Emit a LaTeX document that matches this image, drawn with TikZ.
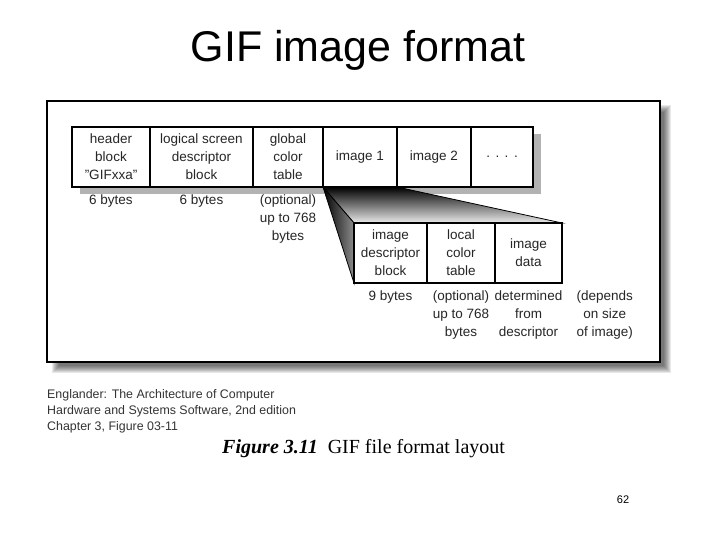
\documentclass[tikz,border=0pt]{standalone}
\usepackage{fontspec}
\setmainfont{Liberation Sans}
\newfontfamily\capfont{Liberation Serif}
\usetikzlibrary{positioning, calc, backgrounds}

\tikzstyle{blk} = [draw, line width=1.2pt, fill=white, outer sep=0pt, inner sep=0pt, minimum height=60pt, align=center, font=\fontsize{13.5}{18}\selectfont, text=black!85]
\tikzstyle{lbl} = [inner sep=0pt, align=center, font=\fontsize{13.5}{18}\selectfont, text=black!85]

\begin{document}
\begin{tikzpicture}[x=1pt, y=-1pt]
\useasboundingbox (0,0) rectangle (720,540);

\node[anchor=base, inner sep=0pt, font=\fontsize{43}{50}\selectfont] (title) at (358,62) {GIF image format};

% file layout
\node[blk, minimum width=78pt] (hdr) at (111,157) {header\\block\\\char34 GIFxxa\char34};
\node[blk, minimum width=103pt, right=0pt of hdr] (lsd) {logical screen\\descriptor\\block};
\node[blk, minimum width=70pt, right=0pt of lsd] (gct) {global\\color\\table};
\node[blk, minimum width=74pt, right=0pt of gct] (img1) {image 1};
\node[blk, minimum width=74pt, right=0pt of img1] (img2) {image 2};
\node[blk, minimum width=62pt, right=0pt of img2] (dots) {.\hspace{5.5pt}.\hspace{5.5pt}.\hspace{5.5pt}.};

\node[lbl, below=8pt of hdr] (hdrsz) {6 bytes};
\node[lbl, below=8pt of lsd] (lsdsz) {6 bytes};
\node[lbl, below=8pt of gct] (gctsz) {(optional)\\up to 768\\bytes};

% one image, opened up
\node[blk, minimum width=73pt] (idb) at (390.5,253) {image\\descriptor\\block};
\node[blk, minimum width=68pt, right=0pt of idb] (lct) {local\\color\\table};
\node[blk, minimum width=67pt, right=0pt of lct] (idat) {image\\data};

\node[lbl, below=8pt of idb] (idbsz) {9 bytes};
\node[lbl, below=8pt of lct] (lctsz) {(optional)\\up to 768\\bytes};
\node[lbl, below=8pt of idat] (idatsz) {determined\\from\\descriptor};
\node[lbl, right=14pt of idatsz.north east, anchor=north west] (imgsz) {(depends\\on size\\of image)};

\begin{scope}[on background layer]
  % frame and its shadow
  \foreach \r in {0,...,7}
    \fill[black, opacity=0.09] (59-\r,112-\r) rectangle (664+\r,366+\r);
  \draw[line width=1.2pt, fill=white] (47,101) rectangle (660,362);
  \fill[black!30] ([shift={(8,7)}]hdr.north west) rectangle ([shift={(8,7)}]dots.south east);
  % the wedge
  \shade[top color=black, bottom color=black!8, draw=black, line width=.8pt] (img1.south west) -- (img1.south east) -- (idat.north east) -- (idb.north west) -- cycle;
  \shade[left color=black, right color=black!45, draw=black, line width=.8pt] (img1.south west) -- (idb.north west) -- (idb.south west) -- cycle;
\end{scope}

\node[anchor=north west, align=left, inner sep=0pt, font=\fontsize{12.4}{16}\selectfont, text=black!80] (src) at (47,389) {Englander: The Architecture of Computer\\Hardware and Systems Software, 2nd edition\\Chapter 3, Figure 03-11};
\node[anchor=base west, inner sep=0pt, font=\capfont\fontsize{20}{24}\selectfont] (fig) at (222,453) {\textbf{\textit{Figure 3.11}}\ \ GIF file format layout};

\node[anchor=base, inner sep=0pt, font=\fontsize{11}{13}\selectfont] (pg) at (623,503) {62};
\end{tikzpicture}
\end{document}
